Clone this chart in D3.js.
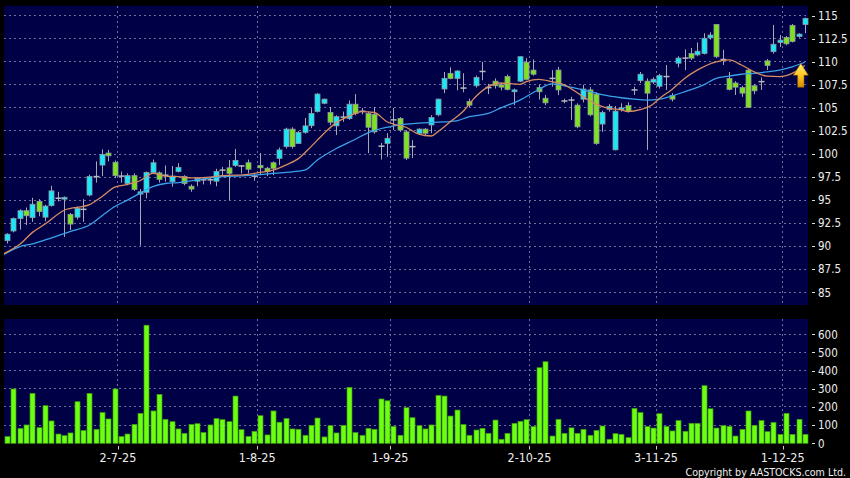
<!DOCTYPE html>
<html><head><meta charset="utf-8">
<script src="https://cdn.jsdelivr.net/npm/d3@7"></script>
<style>body{margin:0;background:#000;}svg{display:block}</style>
</head><body>
<svg id="chart" width="850" height="478"></svg>
<script>
// ---------- DATA ----------
const opens  = [90.6,91.65,93.0,93.85,93.1,94.85,93.15,94.4,95.2,95.1,93.45,93.15,93.95,95.55,97.55,98.8,100.1,99.1,97.6,96.8,
  97.65,95.65,95.85,98.0,97.95,97.7,97.0,98.1,97.55,96.5,97.05,97.2,97.2,97.05,98.25,98.5,98.75,98.7,99.05,97.6,
  98.75,98.45,99.05,99.53,100.8,102.7,101.15,102.35,103.07,104.6,105.5,104.5,103.05,104.0,103.85,105.4,104.63,104.4,104.3,100.85,
  101.15,103.7,103.85,102.4,100.8,102.25,102.7,103.15,104.25,107.05,108.75,108.2,107.15,105.7,107.4,108.95,107.2,107.9,107.5,108.4,
  106.75,107.9,109.95,109.1,107.2,106.05,108.2,109.1,105.75,105.85,105.3,105.95,106.95,106.5,103.25,104.85,100.45,104.8,105.25,106.95,
  107.95,107.9,107.8,107.35,108.4,106.35,109.85,110.4,110.9,110.75,110.9,112.6,114.05,110.25,108.2,107.7,107.2,109.1,107.4,107.85,
  110.1,111.1,112.1,112.65,113.95,112.75,114.05];
const highs  = [91.4,93.1,94.0,94.2,95.25,95.1,94.5,96.55,95.9,95.4,93.6,94.3,95.1,97.75,99.2,100.5,100.45,99.3,98.1,97.9,
  97.9,96.2,98.1,99.4,98.1,98.75,98.7,99.0,97.7,96.7,97.5,97.5,97.5,98.4,98.6,99.35,100.55,98.8,99.4,97.8,
  100.1,98.6,99.2,100.7,102.85,102.9,102.5,103.9,105.05,106.6,106.0,105.1,104.2,104.6,105.8,106.5,105.0,104.6,105.1,101.2,
  102.25,105.0,104.0,102.6,101.5,102.8,102.8,104.2,106.0,108.9,109.4,109.1,108.75,106.0,108.5,110.0,107.6,108.2,107.7,108.6,
  107.1,110.6,110.4,110.25,107.5,106.4,109.1,109.45,106.0,106.2,105.5,107.5,107.25,106.7,104.7,105.4,105.2,105.5,105.6,107.3,
  108.9,108.2,108.3,108.7,109.65,106.6,110.6,111.35,111.5,112.1,113.1,113.2,114.1,111.3,108.9,107.9,107.4,109.2,107.6,108.3,
  110.3,114.0,112.9,112.8,114.1,113.1,114.8];
const lows   = [90.3,91.5,91.8,92.3,92.65,93.25,92.7,94.3,94.85,91.0,91.75,92.9,92.65,95.4,96.9,97.6,99.2,97.4,96.9,96.6,
  96.0,90.05,95.2,97.9,96.9,97.0,96.45,98.0,96.6,95.9,96.5,96.7,96.7,96.5,97.6,95.0,98.6,97.9,97.9,97.1,
  97.7,97.6,97.7,98.8,100.6,100.6,101.1,102.2,102.8,104.5,105.4,103.15,102.05,103.5,103.7,104.2,104.3,100.1,102.2,99.4,
  99.7,102.6,102.4,99.35,99.55,102.1,102.0,102.25,104.1,106.6,108.1,106.9,106.7,105.1,107.2,108.0,106.5,107.1,106.9,106.9,
  105.3,107.8,108.0,108.5,105.9,105.3,107.3,106.4,105.5,103.7,102.8,105.6,104.1,101.0,102.4,104.6,100.4,104.6,104.5,106.4,
  107.7,100.45,107.6,107.1,106.95,105.7,109.4,109.1,110.2,110.6,110.8,112.4,110.4,109.65,106.9,106.4,106.2,105.0,106.5,106.95,
  109.1,110.9,111.6,111.8,112.1,112.6,113.1];
const closes = [91.3,93.0,93.85,93.3,94.55,93.75,94.35,96.0,95.2,95.3,92.4,94.1,94.0,97.55,97.55,99.95,99.8,97.65,97.6,97.65,
  96.15,95.9,98.0,99.05,97.25,97.7,97.6,98.55,96.8,96.2,97.35,97.2,97.2,98.1,98.25,97.9,99.3,98.7,98.35,97.6,
  98.5,98.1,98.45,100.44,102.7,100.8,102.35,103.05,104.4,106.5,105.95,103.45,104.05,104.0,105.4,104.4,104.63,102.9,102.4,100.85,
  101.7,103.7,102.6,99.55,100.8,102.7,102.25,103.95,105.95,108.2,108.2,109.0,107.15,105.3,108.3,108.95,107.2,107.4,107.25,107.0,
  106.95,110.55,108.1,108.65,106.75,105.55,108.2,106.95,105.75,105.85,102.95,107.05,104.25,101.15,104.5,105.15,104.65,105.0,104.6,106.95,
  108.65,106.6,108.1,108.5,108.4,105.95,110.4,110.4,110.4,111.15,112.55,112.9,110.55,110.25,107.0,107.25,106.6,105.05,106.85,107.85,
  109.6,111.9,112.35,111.95,112.2,113.0,114.7];
const volumes = [37,299,82,101,275,86,207,123,51,42,57,229,70,275,77,169,134,299,37,51,
  104,165,650,178,269,132,119,79,55,104,108,59,101,136,130,119,260,75,38,66,
  152,46,178,116,137,79,77,44,99,139,35,97,57,99,308,59,44,82,77,244,
  234,93,44,196,141,97,79,101,264,260,150,183,103,44,73,82,55,128,22,55,
  110,121,130,92,416,449,40,132,55,85,55,77,44,71,95,22,53,49,31,192,
  169,92,84,163,93,68,125,66,110,110,317,190,84,97,93,40,77,178,99,125,
  64,115,49,165,49,132,49];
// moving averages at selected sessions
const ma10Idx = [0,2,4,6,9,13,15,17,19,21,23,25,27,29,32,34,36,38,40,42,44,46,48,50,52,54,56,58,60,61,63,65,67,68,70,72,74,76,78,81,82,84,86,88,91,93,95,97,98,100,102,103,105,107,109,112,114,116,118,120,122,124,126];
const ma10Val = [89.2,90.2,91.5,92.4,93.9,94.5,95.4,96.4,96.7,97.1,97.9,97.6,97.55,97.4,97.5,97.65,97.7,97.8,98.0,98.25,98.8,99.5,100.8,102.2,103.4,104.1,104.6,104.5,103.5,103.25,102.9,102.15,101.95,102.4,103.5,104.6,106.2,107.3,107.7,107.55,107.85,108.1,107.85,107.5,106.2,105.4,104.95,104.8,104.6,104.8,105.4,106.0,107.0,108.2,109.1,110.0,110.2,109.65,108.9,108.45,108.4,108.75,109.6];
const ma20Idx = [0,2,4,7,10,13,15,17,19,21,23,25,27,30,33,36,39,42,47,49,52,55,57,60,63,65,68,71,73,76,78,81,84,86,88,91,93,95,97,99,101,103,105,107,110,112,114,116,118,120,122,124,126];
const ma20Val = [89.1,89.95,90.25,90.9,91.6,92.3,93.3,94.3,95.0,95.75,96.45,96.8,96.9,97.2,97.5,97.6,97.7,97.9,98.25,99.35,100.6,101.6,102.3,102.9,103.25,103.35,103.45,103.6,104.05,104.4,105.0,105.85,107.0,107.6,107.4,106.95,106.6,106.3,106.1,105.95,105.85,105.95,106.3,106.75,107.5,108.2,108.45,108.65,108.75,108.9,109.1,109.45,109.95];
const priceTicks = [85,87.5,90,92.5,95,97.5,100,102.5,105,107.5,110,112.5,115];
const volTicks = [0,100,200,300,400,500,600];
const dateTickIdx = [18,40,61,83,103,123];
const dateTickLabels = ["2-7-25","1-8-25","1-9-25","2-10-25","3-11-25","1-12-25"];

// ---------- LAYOUT ----------
const svg = d3.select("#chart");
const W = 850, H = 478;
const pL = 4, pR = 808;
const pTop = 5.7, pBot = 305;       // price panel
const vTop = 319, vBot = 443.3;     // volume panel
const navy = "#000046";
const gridCol = "#6e6e98";

svg.append("rect").attr("width",W).attr("height",H).attr("fill","#000");

const n = closes.length;
const x = d3.scaleBand().domain(d3.range(n)).range([pL,pR]).paddingInner(0.2).paddingOuter(0.1);
const cx = i => x(i) + x.bandwidth()/2;
const gx = i => x(i) - x.step()*x.paddingInner()/2;

const y = d3.scaleLinear().domain([85,115]).range([292.3,15.7]);
const yv = d3.scaleLinear().domain([0,600]).range([vBot,334.3]);

// panels
svg.append("rect").attr("x",pL).attr("y",pTop).attr("width",pR-pL).attr("height",pBot-pTop).attr("fill",navy);
svg.append("rect").attr("x",pL).attr("y",vTop).attr("width",pR-pL).attr("height",vBot-vTop).attr("fill",navy);

// grid - price
const g = svg.append("g");
g.selectAll(".hp").data(priceTicks).join("line")
  .attr("x1",pL).attr("x2",pR).attr("y1",d=>y(d)).attr("y2",d=>y(d))
  .attr("stroke",gridCol).attr("stroke-width",1).attr("stroke-dasharray","2,3").attr("shape-rendering","crispEdges");
g.selectAll(".vp").data(dateTickIdx).join("line")
  .attr("x1",d=>gx(d)).attr("x2",d=>gx(d)).attr("y1",pTop).attr("y2",pBot)
  .attr("stroke",gridCol).attr("stroke-width",1).attr("stroke-dasharray","2,3").attr("shape-rendering","crispEdges");
// grid - volume
g.selectAll(".hv").data(volTicks.filter(d=>d>0)).join("line")
  .attr("x1",pL).attr("x2",pR).attr("y1",d=>yv(d)).attr("y2",d=>yv(d))
  .attr("stroke",gridCol).attr("stroke-width",1).attr("stroke-dasharray","2,3").attr("shape-rendering","crispEdges");
g.selectAll(".vv").data(dateTickIdx).join("line")
  .attr("x1",d=>gx(d)).attr("x2",d=>gx(d)).attr("y1",vTop).attr("y2",vBot)
  .attr("stroke",gridCol).attr("stroke-width",1).attr("stroke-dasharray","2,3").attr("shape-rendering","crispEdges");

// candles
const idx = d3.range(n);
const cg = svg.append("g");
cg.selectAll(".wick").data(idx).join("line")
  .attr("x1",i=>Math.round(cx(i))+0.5).attr("x2",i=>Math.round(cx(i))+0.5)
  .attr("y1",i=>y(highs[i])).attr("y2",i=>y(lows[i]))
  .attr("stroke","#a8a8b0").attr("stroke-width",1);
const isDoji = i => Math.abs(closes[i]-opens[i]) < 0.06;
cg.selectAll(".body").data(idx.filter(i=>!isDoji(i))).join("rect")
  .attr("x",i=>Math.round(cx(i))-2)
  .attr("width",5)
  .attr("y",i=>y(Math.max(opens[i],closes[i])))
  .attr("height",i=>Math.max(1.5, Math.abs(y(opens[i])-y(closes[i]))))
  .attr("fill",i=>closes[i]>opens[i] ? "#18e8f8" : "#7ee21e")
  .attr("stroke","#8c9aa6").attr("stroke-width",0.8);
cg.selectAll(".doji").data(idx.filter(isDoji)).join("line")
  .attr("x1",i=>Math.round(cx(i))-2.5).attr("x2",i=>Math.round(cx(i))+3.5)
  .attr("y1",i=>y(closes[i])).attr("y2",i=>y(closes[i]))
  .attr("stroke","#b8b8c0").attr("stroke-width",1.5);

// moving averages (start flush with the panel's left edge)
const lineGen = d3.line().x(d=>d[0]===0 ? pL : cx(d[0])).y(d=>y(d[1])).curve(d3.curveMonotoneX);
svg.append("path").datum(ma20Idx.map((d,k)=>[d,ma20Val[k]]))
  .attr("d",lineGen).attr("fill","none").attr("stroke","#3aa2ea").attr("stroke-width",1.3);
svg.append("path").datum(ma10Idx.map((d,k)=>[d,ma10Val[k]]))
  .attr("d",lineGen).attr("fill","none").attr("stroke","#d88c62").attr("stroke-width",1.3);

// arrow
const defs = svg.append("defs");
const grad = defs.append("linearGradient").attr("id","ag").attr("x1",0).attr("y1",0).attr("x2",0).attr("y2",1);
grad.append("stop").attr("offset","0%").attr("stop-color","#fff27a");
grad.append("stop").attr("offset","55%").attr("stop-color","#ffc21a");
grad.append("stop").attr("offset","100%").attr("stop-color","#d98a00");
const ax = cx(n-1) - 4, ay = y(ma20Val[ma20Val.length-1]) + 1;
svg.append("path")
  .attr("d",`M${ax},${ay} L${ax+7.5},${ay+12} L${ax+3.2},${ay+12} L${ax+3.2},${ay+24} L${ax-3.2},${ay+24} L${ax-3.2},${ay+12} L${ax-7.5},${ay+12} Z`)
  .attr("fill","url(#ag)").attr("stroke","#8a5a00").attr("stroke-width",0.6);

// volume bars
svg.append("g").selectAll("rect").data(idx).join("rect")
  .attr("x",i=>Math.round(cx(i))-2).attr("width",5)
  .attr("y",i=>yv(volumes[i])).attr("height",i=>yv(0)-yv(volumes[i]))
  .attr("fill","#6cff12").attr("stroke","#3f9a10").attr("stroke-width",0.7);

// axes labels (right)
const font = "'DejaVu Sans Condensed','DejaVu Sans',sans-serif";
const ra = svg.append("g");
ra.selectAll(".pt").data(priceTicks).join("line")
  .attr("x1",812).attr("x2",815).attr("y1",d=>Math.round(y(d))+0.5).attr("y2",d=>Math.round(y(d))+0.5)
  .attr("stroke","#ddd").attr("stroke-width",1);
ra.selectAll(".pl").data(priceTicks).join("text")
  .attr("x",818).attr("y",d=>y(d)+4.2)
  .attr("fill","#eeeeee").attr("font-family",font).attr("font-size","11.5px")
  .text(d=>d3.format("~g")(d));
ra.selectAll(".vt").data(volTicks).join("line")
  .attr("x1",812).attr("x2",815).attr("y1",d=>Math.round(yv(d))+0.5).attr("y2",d=>Math.round(yv(d))+0.5)
  .attr("stroke","#ddd").attr("stroke-width",1);
ra.selectAll(".vl").data(volTicks).join("text")
  .attr("x",818).attr("y",d=>yv(d)+4.2)
  .attr("fill","#eeeeee").attr("font-family",font).attr("font-size","11.5px")
  .text(d=>d);

// date axis
const da = svg.append("g");
da.selectAll("line").data(dateTickIdx).join("line")
  .attr("x1",d=>Math.round(gx(d))+0.5).attr("x2",d=>Math.round(gx(d))+0.5).attr("y1",446).attr("y2",449.5)
  .attr("stroke","#ccc").attr("stroke-width",1);
da.selectAll("text").data(dateTickIdx).join("text")
  .attr("x",d=>gx(d)).attr("y",462).attr("text-anchor","middle")
  .attr("fill","#eeeeee").attr("font-family",font).attr("font-size","12.5px")
  .text((d,k)=>dateTickLabels[k]);

svg.append("text").attr("x",846).attr("y",475.5).attr("text-anchor","end")
  .attr("fill","#eeeeee").attr("font-family",font).attr("font-size","10.6px")
  .text("Copyright by AASTOCKS.com Ltd.");
</script>
</body></html>
